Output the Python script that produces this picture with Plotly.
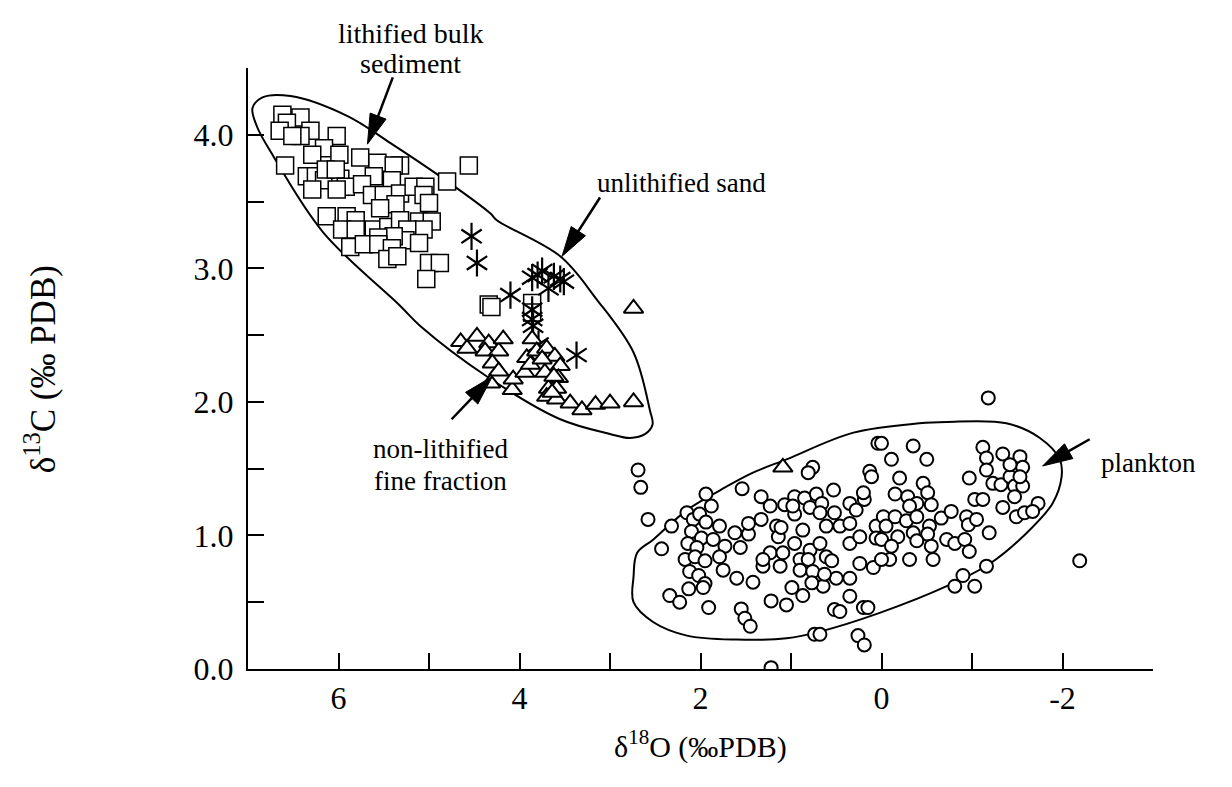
import numpy as np
import plotly.graph_objects as go

# ---------------- data ----------------
sq_x = [6.62,6.42,6.57,6.65,6.31,6.42,6.02,6.51,6.16,6.29,5.99,5.76,5.57,5.32,5.39,6.59,4.56,
        6.35,6.25,6.16,5.98,6.14,6.03,5.61,5.41,5.92,6.29,6.02,5.74,5.63,5.50,5.32,5.17,5.04,
        5.06,5.00,4.80,5.37,5.54,6.13,5.91,5.81,5.96,5.81,5.61,5.45,5.32,5.11,4.97,5.06,5.24,
        5.26,5.39,5.56,5.87,5.72,5.56,5.41,5.11,5.46,5.35,5.00,4.88,5.03,4.34,4.31,3.86,3.86]
sq_y = [4.15,4.13,4.09,4.03,4.03,3.99,3.99,3.99,3.90,3.85,3.85,3.83,3.79,3.77,3.77,3.77,3.77,
        3.69,3.69,3.66,3.67,3.74,3.74,3.69,3.66,3.61,3.59,3.59,3.63,3.55,3.55,3.56,3.61,3.61,
        3.55,3.49,3.65,3.48,3.45,3.39,3.39,3.36,3.29,3.29,3.29,3.31,3.36,3.35,3.35,3.29,3.29,
        3.21,3.24,3.23,3.16,3.18,3.18,3.15,3.19,3.07,3.09,3.04,3.04,2.92,2.73,2.71,2.74,2.67]

ast_x = [4.53,4.47,4.10,3.86,3.75,3.68,3.55,3.51,3.86,3.86,3.85,3.79,3.37,3.80,3.62]
ast_y = [3.24,3.04,2.80,2.93,2.98,2.85,2.92,2.90,2.69,2.62,2.57,2.43,2.35,2.95,2.94]

tri_x = [4.65,4.58,4.47,4.34,4.38,4.23,4.18,4.30,4.23,4.32,4.08,4.07,3.94,3.92,3.86,3.81,3.70,
         3.61,3.55,3.72,3.57,3.68,3.59,3.70,3.59,3.44,3.31,3.16,3.00,2.74,2.74,3.88,3.75,3.62,
         3.64,1.09]
tri_y = [2.45,2.40,2.49,2.44,2.38,2.38,2.47,2.29,2.23,2.14,2.09,2.17,2.22,2.33,2.47,2.38,2.40,
         2.34,2.27,2.22,2.18,2.10,2.10,2.04,2.02,1.99,1.94,1.98,1.99,2.00,2.70,2.28,2.32,2.19,
         2.07,1.51]

circ_x = [2.69,2.66,2.58,2.43,2.32,2.15,2.08,2.01,1.94,1.88,1.94,2.10,1.99,2.14,2.04,2.17,2.06,
          1.95,1.79,1.86,1.73,1.79,1.75,2.12,2.02,1.95,1.97,2.13,2.34,2.23,1.91,1.60,1.62,1.47,
          1.56,1.54,1.42,1.55,1.51,1.45,1.33,1.23,1.33,1.16,1.14,1.23,1.09,1.31,1.12,1.22,1.05,
          1.07,0.96,0.85,0.72,0.79,0.66,0.96,0.87,0.96,0.79,0.68,0.90,0.81,0.61,0.90,0.76,0.645,
          0.77,0.99,0.87,0.53,0.52,0.46,0.50,0.35,0.35,0.52,0.46,0.35,0.35,0.35,0.24,0.19,0.20,
          0.28,0.24,0.09,0.20,0.15,0.06,0.06,0.13,0.11,0.04,0.76,0.81,0.74,0.68,0.26,0.19,0.63,
          0.55,1.31,1.11,0.98,0.61,0.68,1.47,1.22,
          -1.18,0.00,-0.35,-0.11,-0.50,-0.20,-0.15,-0.29,-0.46,-0.51,-0.55,-0.39,-0.31,-0.02,
          -0.15,-0.275,-0.39,-0.53,-0.66,-0.77,-0.05,-0.18,-0.35,-0.51,0.00,-0.11,-0.39,-0.55,
          -0.09,-0.31,-0.57,0.00,-0.72,-0.81,-0.92,-0.97,-0.94,-0.96,-1.05,-1.03,-0.97,-1.12,
          -1.19,-1.12,-1.16,-1.16,-1.23,-1.34,-1.32,-1.42,-1.53,-1.56,-1.47,-1.56,-1.47,-1.34,
          -1.49,-1.58,-1.73,-1.67,-1.16,-0.90,-0.81,-1.03,-2.19,-1.42,-1.53]
circ_y = [1.49,1.36,1.12,0.90,1.07,1.17,1.12,1.16,1.31,1.22,1.10,1.03,0.98,0.94,0.91,0.82,0.84,
          0.81,1.07,0.97,0.92,0.84,0.74,0.73,0.70,0.64,0.61,0.60,0.55,0.50,0.46,0.68,1.02,1.01,
          0.91,1.35,0.65,0.45,0.38,0.32,1.29,1.22,1.12,1.07,0.99,0.87,0.87,0.77,0.77,0.51,0.48,
          1.23,1.29,1.28,1.31,1.21,1.24,1.16,1.04,0.94,0.89,0.94,0.82,0.82,0.84,0.74,0.73,0.62,
          0.645,0.61,0.55,1.34,1.17,1.07,0.68,0.68,0.545,0.445,0.43,1.24,1.09,0.94,0.79,1.27,1.32,
          1.19,0.99,0.76,0.46,0.46,1.07,0.98,1.48,1.44,1.69,1.51,1.47,0.26,0.26,0.25,0.18,0.71,
          0.81,0.82,1.06,1.22,1.07,1.17,1.09,0.01,
          2.03,1.69,1.67,1.57,1.57,1.43,1.31,1.29,1.39,1.32,1.23,1.24,1.22,1.14,
          1.14,1.11,1.14,1.07,1.13,1.18,1.07,0.99,1.02,1.01,0.97,0.92,0.96,0.92,
          0.82,0.82,0.82,0.82,0.97,0.94,0.97,0.88,1.14,1.08,1.12,1.27,1.43,1.27,
          1.02,1.66,1.58,1.49,1.39,1.61,1.38,1.44,1.59,1.51,1.37,1.37,1.29,1.21,
          1.14,1.17,1.24,1.18,0.77,0.70,0.62,0.62,0.81,1.53,1.44]

# enclosure outlines (data units)
env1_x = [6.95,6.84,6.53,5.90,5.43,4.88,4.32,4.25,3.55,3.15,2.74,2.56,2.53,2.61,2.78,3.00,3.55,
          4.36,5.10,5.32,6.17,6.72,6.90,6.95]
env1_y = [4.20,4.28,4.29,4.14,3.94,3.69,3.41,3.36,3.09,2.77,2.37,1.94,1.83,1.76,1.73,1.76,1.87,
          2.19,2.57,2.72,3.27,3.84,4.06,4.20]
env2_x = [2.74,2.70,2.52,2.15,1.78,1.42,1.05,0.31,-0.42,-0.72,-1.38,-1.75,-1.97,-1.99,-1.89,
          -1.56,-1.20,-0.72,0.02,0.68,1.05,1.60,2.15,2.52,2.74,2.74]
env2_y = [0.69,0.87,0.97,1.19,1.34,1.47,1.57,1.77,1.84,1.85,1.84,1.73,1.57,1.44,1.24,0.99,0.79,
          0.62,0.42,0.28,0.23,0.22,0.25,0.35,0.50,0.69]

# arrows: (tip x, tip y, tail x, tail y) in data units
arrows = [(5.68, 3.93, 5.40, 4.43),
          (3.53, 3.09, 3.11, 3.53),
          (4.30, 2.19, 4.75, 1.87),
          (-1.78, 1.52, -2.30, 1.72)]

x_tickvals = [6, 4, 2, 0, -2]
x_ticktext = ["6", "4", "2", "0", "-2"]
x_minorvals = [7, 5, 3, 1, -1, -3]
y_tickvals = [0, 1, 2, 3, 4]
y_ticktext = ["0.0", "1.0", "2.0", "3.0", "4.0"]
y_minorvals = [0.5, 1.5, 2.5, 3.5, 4.5]

X_RANGE = [7, -3]
Y_RANGE = [0, 4.5]

# ---------------- layout geometry ----------------
FONT = "Liberation Serif"
W, H = 1216, 771          # page body has an 8px margin
ML, MT, PW, PH = 239.5, 60.0, 905.5, 601.5
MR = W - ML - PW
MB = H - MT - PH
OFF = 8

def pfrac(sx, sy):
    """screen pixel -> paper fraction"""
    return (sx - OFF - ML) / PW, (MT + PH - (sy - OFF)) / PH

fig = go.Figure()

for ex, ey in [(env1_x, env1_y), (env2_x, env2_y)]:
    fig.add_trace(go.Scatter(x=ex, y=ey, mode="lines",
                             line=dict(color="black", width=2, shape="spline", smoothing=1.0),
                             hoverinfo="skip", showlegend=False))

fig.add_trace(go.Scatter(x=sq_x, y=sq_y, mode="markers", showlegend=False, name="lithified bulk sediment",
                         marker=dict(symbol="square", size=17, color="white", line=dict(color="black", width=1.5))))
# six-armed asterisk = Y-up + Y-down overlay
for sym in ["y-up-open", "y-down-open"]:
    fig.add_trace(go.Scatter(x=ast_x, y=ast_y, mode="markers", showlegend=False, name="unlithified sand",
                             marker=dict(symbol=sym, size=17, color="black", line=dict(color="black", width=2.2))))
fig.add_trace(go.Scatter(x=tri_x, y=tri_y, mode="markers", showlegend=False, name="non-lithified fine fraction",
                         marker=dict(symbol="triangle-up", size=17, color="white", line=dict(color="black", width=2))))
fig.add_trace(go.Scatter(x=circ_x, y=circ_y, mode="markers", showlegend=False, name="plankton",
                         marker=dict(symbol="circle", size=13, color="white", line=dict(color="black", width=2))))

# arrows: shaft + elongated filled head, geometry computed in pixel space
sxu = PW / (X_RANGE[0] - X_RANGE[1])   # px per x unit (x reversed)
syu = PH / (Y_RANGE[1] - Y_RANGE[0])
HEAD_L, HEAD_W = 30.0, 17.0
for xt, yt, xa, ya in arrows:
    tip = np.array([-xt * sxu, -yt * syu])
    tail = np.array([-xa * sxu, -ya * syu])
    d = tip - tail
    u = d / np.linalg.norm(d)
    n = np.array([-u[1], u[0]])
    base = tip - u * HEAD_L
    c1 = base + n * HEAD_W / 2
    c2 = base - n * HEAD_W / 2
    tod = lambda p: (-p[0] / sxu, -p[1] / syu)
    b = tod(base + u * 4)
    fig.add_trace(go.Scatter(x=[xa, b[0]], y=[ya, b[1]], mode="lines",
                             line=dict(color="black", width=2.5), hoverinfo="skip", showlegend=False,
                             cliponaxis=False))
    pts = [tod(tip), tod(c1), tod(c2), tod(tip)]
    fig.add_trace(go.Scatter(x=[p[0] for p in pts], y=[p[1] for p in pts], mode="lines", fill="toself",
                             fillcolor="black", line=dict(color="black", width=1), hoverinfo="skip",
                             showlegend=False, cliponaxis=False))

tick_style = dict(ticks="inside", ticklen=16, tickwidth=2, tickcolor="black")
axis_common = dict(showline=True, linecolor="black", linewidth=2, showgrid=False, zeroline=False,
                   tickfont=dict(family=FONT, size=32, color="black"), tickmode="array", **tick_style)
fig.update_xaxes(range=X_RANGE, tickvals=x_tickvals, ticktext=x_ticktext, ticklabelstandoff=0,
                 minor=dict(tickmode="array", tickvals=x_minorvals, showgrid=False, **tick_style),
                 **axis_common)
fig.update_yaxes(range=Y_RANGE, tickvals=y_tickvals, ticktext=y_ticktext, ticklabelstandoff=6,
                 minor=dict(tickmode="array", tickvals=y_minorvals, showgrid=False, **tick_style),
                 **axis_common)

def text_at(text, sx, sy, size=27, **kw):
    fx, fy = pfrac(sx, sy)
    fig.add_annotation(x=fx, y=fy, xref="paper", yref="paper", text=text, showarrow=False,
                       xanchor=kw.pop("xanchor", "center"), yanchor="middle",
                       font=dict(family=FONT, size=size, color="black"), **kw)

text_at("lithified bulk", 410, 33, size=28)
text_at("sediment", 410, 63, size=28)
text_at("unlithified sand", 681, 183)
text_at("non-lithified", 440, 449)
text_at("fine fraction", 440, 481)
text_at("plankton", 1099, 463, xanchor="left")
text_at("δ<sup>13</sup>C (‰ PDB)", 40, 370, size=35, textangle=-90)
text_at("δ<sup>18</sup>O (‰PDB)", 700, 745, size=30)

fig.update_layout(
    width=W, height=H, plot_bgcolor="white", paper_bgcolor="white",
    margin=dict(l=ML, r=MR, t=MT, b=MB, pad=0),
)

fig.write_html("out.html")
